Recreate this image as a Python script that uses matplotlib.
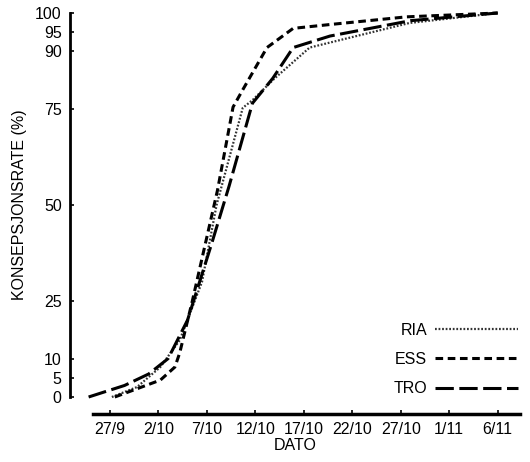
import numpy as np
import matplotlib.pyplot as plt

plt.rcParams['font.family'] = ['Liberation Sans', 'DejaVu Sans']

# Dager etter 27/9 (27/9 = 0, 2/10 = 5, ... 6/11 = 40)
tick_dager = [0, 5, 10, 15, 20, 25, 30, 35, 40]
tick_labels = ['27/9', '2/10', '7/10', '12/10', '17/10', '22/10', '27/10', '1/11', '6/11']
y_ticks = [0, 5, 10, 25, 50, 75, 90, 95, 100]

# (dag, konsepsjonsrate %)
ria_dag = [0.2, 2.8, 5.2, 7.2, 9.5, 11.0, 13.7, 14.7, 17.0, 20.6, 30.9, 40.0]
ria_val = [0.0, 2.6, 7.8, 14.8, 30.0, 50.0, 75.3, 77.3, 83.0, 91.0, 97.4, 100.0]

ess_dag = [0.5, 5.2, 6.7, 7.2, 8.5, 11.1, 12.7, 13.7, 16.2, 18.9, 22.7, 30.6, 40.0]
ess_val = [0.0, 4.4, 7.8, 11.5, 25.0, 53.9, 75.5, 80.0, 91.0, 96.0, 97.0, 99.0, 100.0]

tro_dag = [-2.2, 1.5, 4.0, 6.0, 8.0, 10.5, 12.3, 14.7, 16.8, 18.9, 22.7, 31.0, 40.0]
tro_val = [0.0, 3.0, 6.0, 10.0, 20.0, 40.0, 55.0, 76.5, 83.0, 91.0, 94.0, 98.0, 100.0]

fs = 11.5

fig = plt.figure(figsize=(5.3, 4.62), dpi=100)
ax = fig.add_axes([70/530, 65/462, 450/530, 384/462])

ax.plot(ria_dag, ria_val, color='#333333', lw=1.6, ls=(0, (0.8, 0.8)), label='RIA', clip_on=False)
ax.plot(ess_dag, ess_val, color='black', lw=2.2, ls=(0, (2.5, 1.5)), label='ESS', clip_on=False)
ax.plot(tro_dag, tro_val, color='black', lw=2.2, ls=(0, (6, 1.8)), label='TRO', clip_on=False)

ax.set_xlim(-4.12, 42.3)
ax.set_ylim(0, 100)

# akser
ax.spines['top'].set_visible(False)
ax.spines['right'].set_visible(False)
ax.spines['left'].set_linewidth(2)
ax.spines['bottom'].set_linewidth(2.5)
ax.spines['bottom'].set_position(('outward', 12))
ax.spines['bottom'].set_bounds(-1.75, 42.3)

ax.set_xticks(tick_dager)
ax.set_xticklabels(tick_labels)
ax.set_yticks(y_ticks)
ax.tick_params(direction='in', length=3, width=1.2, labelsize=fs, color='black')
ax.tick_params(axis='x', pad=6)
ax.tick_params(axis='y', pad=6)

ax.set_xlabel('DATO', fontsize=fs, labelpad=1)
ax.set_ylabel('KONSEPSJONSRATE (%)', fontsize=fs, labelpad=6)

ax.legend(loc='lower right', bbox_to_anchor=(518/530, 0.142), bbox_transform=fig.transFigure,
          frameon=False, markerfirst=False, fontsize=fs, handlelength=5.2,
          handletextpad=0.5, labelspacing=0.9, borderpad=0, borderaxespad=0)

plt.savefig('out.png', dpi=100)
